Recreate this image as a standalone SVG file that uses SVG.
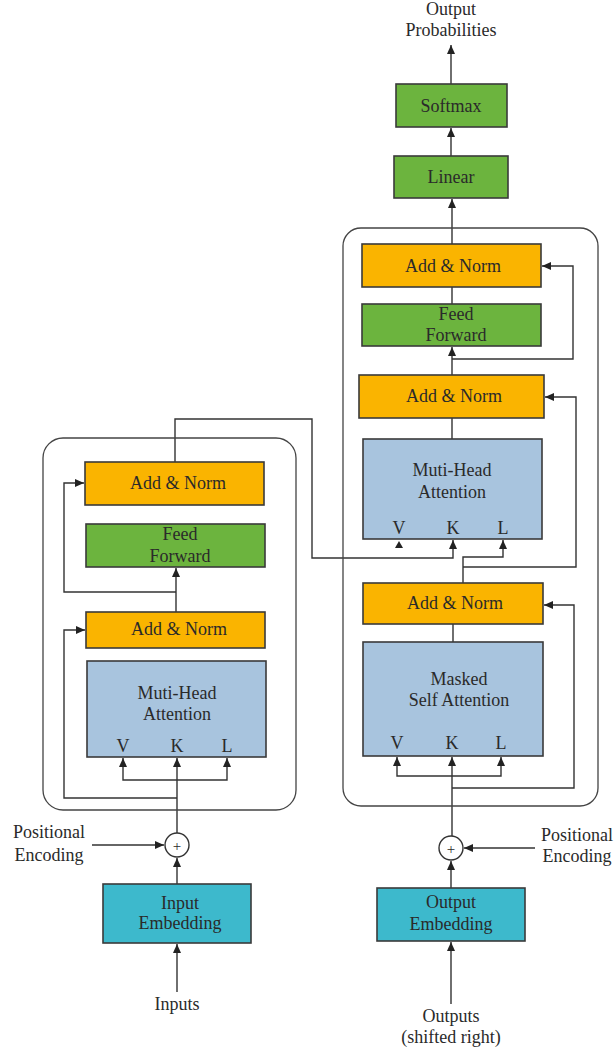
<svg xmlns="http://www.w3.org/2000/svg" width="615" height="1054" viewBox="0 0 615 1054">
<defs>
<marker id="ah" markerUnits="userSpaceOnUse" markerWidth="10" markerHeight="8" refX="9" refY="4" orient="auto">
<path d="M0,0 L9,4 L0,8 Z" fill="#222"/>
</marker>
<style>
.box{stroke:#3a3a3a;stroke-width:1.6}
.orange{fill:#FAB400}
.green{fill:#6CB43E}
.blue{fill:#A8C4DE}
.cyan{fill:#3DB9CC}
.frame{fill:none;stroke:#444;stroke-width:1.3}
.t{font-family:'Liberation Serif','DejaVu Serif',serif;font-size:18px;fill:#2a2a2a;text-anchor:middle}
.c{fill:none;stroke:#333;stroke-width:1.4}
.a{marker-end:url(#ah)}
</style>
</defs>

<g id="connectors">
<path class="c a" d="M177,992 V944"/>
<path class="c a" d="M177,884 V858"/>
<path class="c a" d="M92,845 H164"/>
<path class="c a" d="M177,833 V758"/>
<path class="c a" d="M177,780 H123 V758"/>
<path class="c a" d="M177,780 H227 V758"/>
<path class="c a" d="M177,798 H64 V630 H85"/>
<path class="c a" d="M176,612 V568"/>
<path class="c a" d="M176,592 H64 V483 H84"/>
<path class="c a" d="M175,462 V419 H312 V558 H453 V540"/>
<path class="c a" d="M451,1004 V942"/>
<path class="c a" d="M451,888 V861"/>
<path class="c a" d="M535,848 H464"/>
<path class="c a" d="M452,836 V757"/>
<path class="c a" d="M452,776 H397 V757"/>
<path class="c a" d="M452,776 H501 V757"/>
<path class="c a" d="M452,788 H574 V605 H544"/>
<path class="c" d="M453,642 V624"/>
<path class="c a" d="M463,583 V557 H503 V540"/>
<path class="c a" d="M463,567 H576 V397 H545"/>
<path d="M395,548 L399,541 L403,548 Z" fill="#222"/>
<path class="c" d="M452,439 V418"/>
<path class="c a" d="M452,375 V347"/>
<path class="c a" d="M452,359 H573 V266 H542"/>
<path class="c" d="M452,304 V287"/>
<path class="c a" d="M452,244 V199"/>
<path class="c a" d="M451,156 V128"/>
<path class="c a" d="M451,84 V45"/>
</g>

<g id="encoder-frame"><rect class="frame" x="43" y="438" width="253" height="372" rx="20"/></g>
<g id="decoder-frame"><rect class="frame" x="343" y="228" width="255" height="578" rx="18"/></g>

<g id="enc-addnorm-top"><rect class="box orange" x="85" y="462" width="179" height="43"/><text class="t" x="178" y="489">Add &amp; Norm</text></g>
<g id="enc-ff"><rect class="box green" x="86" y="524" width="179" height="43"/><text class="t" x="180" y="540">Feed</text><text class="t" x="180" y="562">Forward</text></g>
<g id="enc-addnorm-low"><rect class="box orange" x="86" y="612" width="179" height="36"/><text class="t" x="179" y="635">Add &amp; Norm</text></g>
<g id="enc-mha"><rect class="box blue" x="87" y="661" width="179" height="96"/><text class="t" x="177" y="699">Muti-Head</text><text class="t" x="177" y="720">Attention</text><text class="t" x="123" y="752">V</text><text class="t" x="177" y="752">K</text><text class="t" x="227" y="752">L</text></g>
<g id="enc-plus"><circle cx="177" cy="845" r="12" fill="#fff" stroke="#333" stroke-width="1.4"/><text class="t" x="177" y="851" style="font-size:15px">+</text></g>
<g id="enc-pos"><text class="t" x="49" y="838">Positional</text><text class="t" x="49" y="861">Encoding</text></g>
<g id="enc-emb"><rect class="box cyan" x="103" y="884" width="148" height="59"/><text class="t" x="180" y="909">Input</text><text class="t" x="180" y="929">Embedding</text></g>
<g id="inputs"><text class="t" x="177" y="1010">Inputs</text></g>

<g id="output-prob"><text class="t" x="451" y="15">Output</text><text class="t" x="451" y="36">Probabilities</text></g>
<g id="softmax"><rect class="box green" x="396" y="84" width="111" height="43"/><text class="t" x="451" y="112">Softmax</text></g>
<g id="linear"><rect class="box green" x="394" y="156" width="114" height="42"/><text class="t" x="451" y="183">Linear</text></g>
<g id="dec-addnorm-top"><rect class="box orange" x="362" y="244" width="179" height="43"/><text class="t" x="453" y="272">Add &amp; Norm</text></g>
<g id="dec-ff"><rect class="box green" x="362" y="304" width="179" height="42"/><text class="t" x="456" y="320">Feed</text><text class="t" x="456" y="341">Forward</text></g>
<g id="dec-addnorm-mid"><rect class="box orange" x="359" y="375" width="185" height="43"/><text class="t" x="454" y="402">Add &amp; Norm</text></g>
<g id="dec-mha"><rect class="box blue" x="363" y="439" width="179" height="100"/><text class="t" x="452" y="476">Muti-Head</text><text class="t" x="452" y="498">Attention</text><text class="t" x="399" y="534">V</text><text class="t" x="453" y="534">K</text><text class="t" x="503" y="534">L</text></g>
<g id="dec-addnorm-low"><rect class="box orange" x="363" y="583" width="180" height="41"/><text class="t" x="455" y="609">Add &amp; Norm</text></g>
<g id="dec-msa"><rect class="box blue" x="363" y="642" width="180" height="114"/><text class="t" x="459" y="685">Masked</text><text class="t" x="459" y="706">Self Attention</text><text class="t" x="397" y="749">V</text><text class="t" x="452" y="749">K</text><text class="t" x="501" y="749">L</text></g>
<g id="dec-plus"><circle cx="451" cy="848" r="12" fill="#fff" stroke="#333" stroke-width="1.4"/><text class="t" x="451" y="854" style="font-size:15px">+</text></g>
<g id="dec-pos"><text class="t" x="577" y="841">Positional</text><text class="t" x="577" y="862">Encoding</text></g>
<g id="dec-emb"><rect class="box cyan" x="377" y="888" width="148" height="53"/><text class="t" x="451" y="908">Output</text><text class="t" x="451" y="930">Embedding</text></g>
<g id="outputs"><text class="t" x="451" y="1022">Outputs</text><text class="t" x="451" y="1043">(shifted right)</text></g>
</svg>
